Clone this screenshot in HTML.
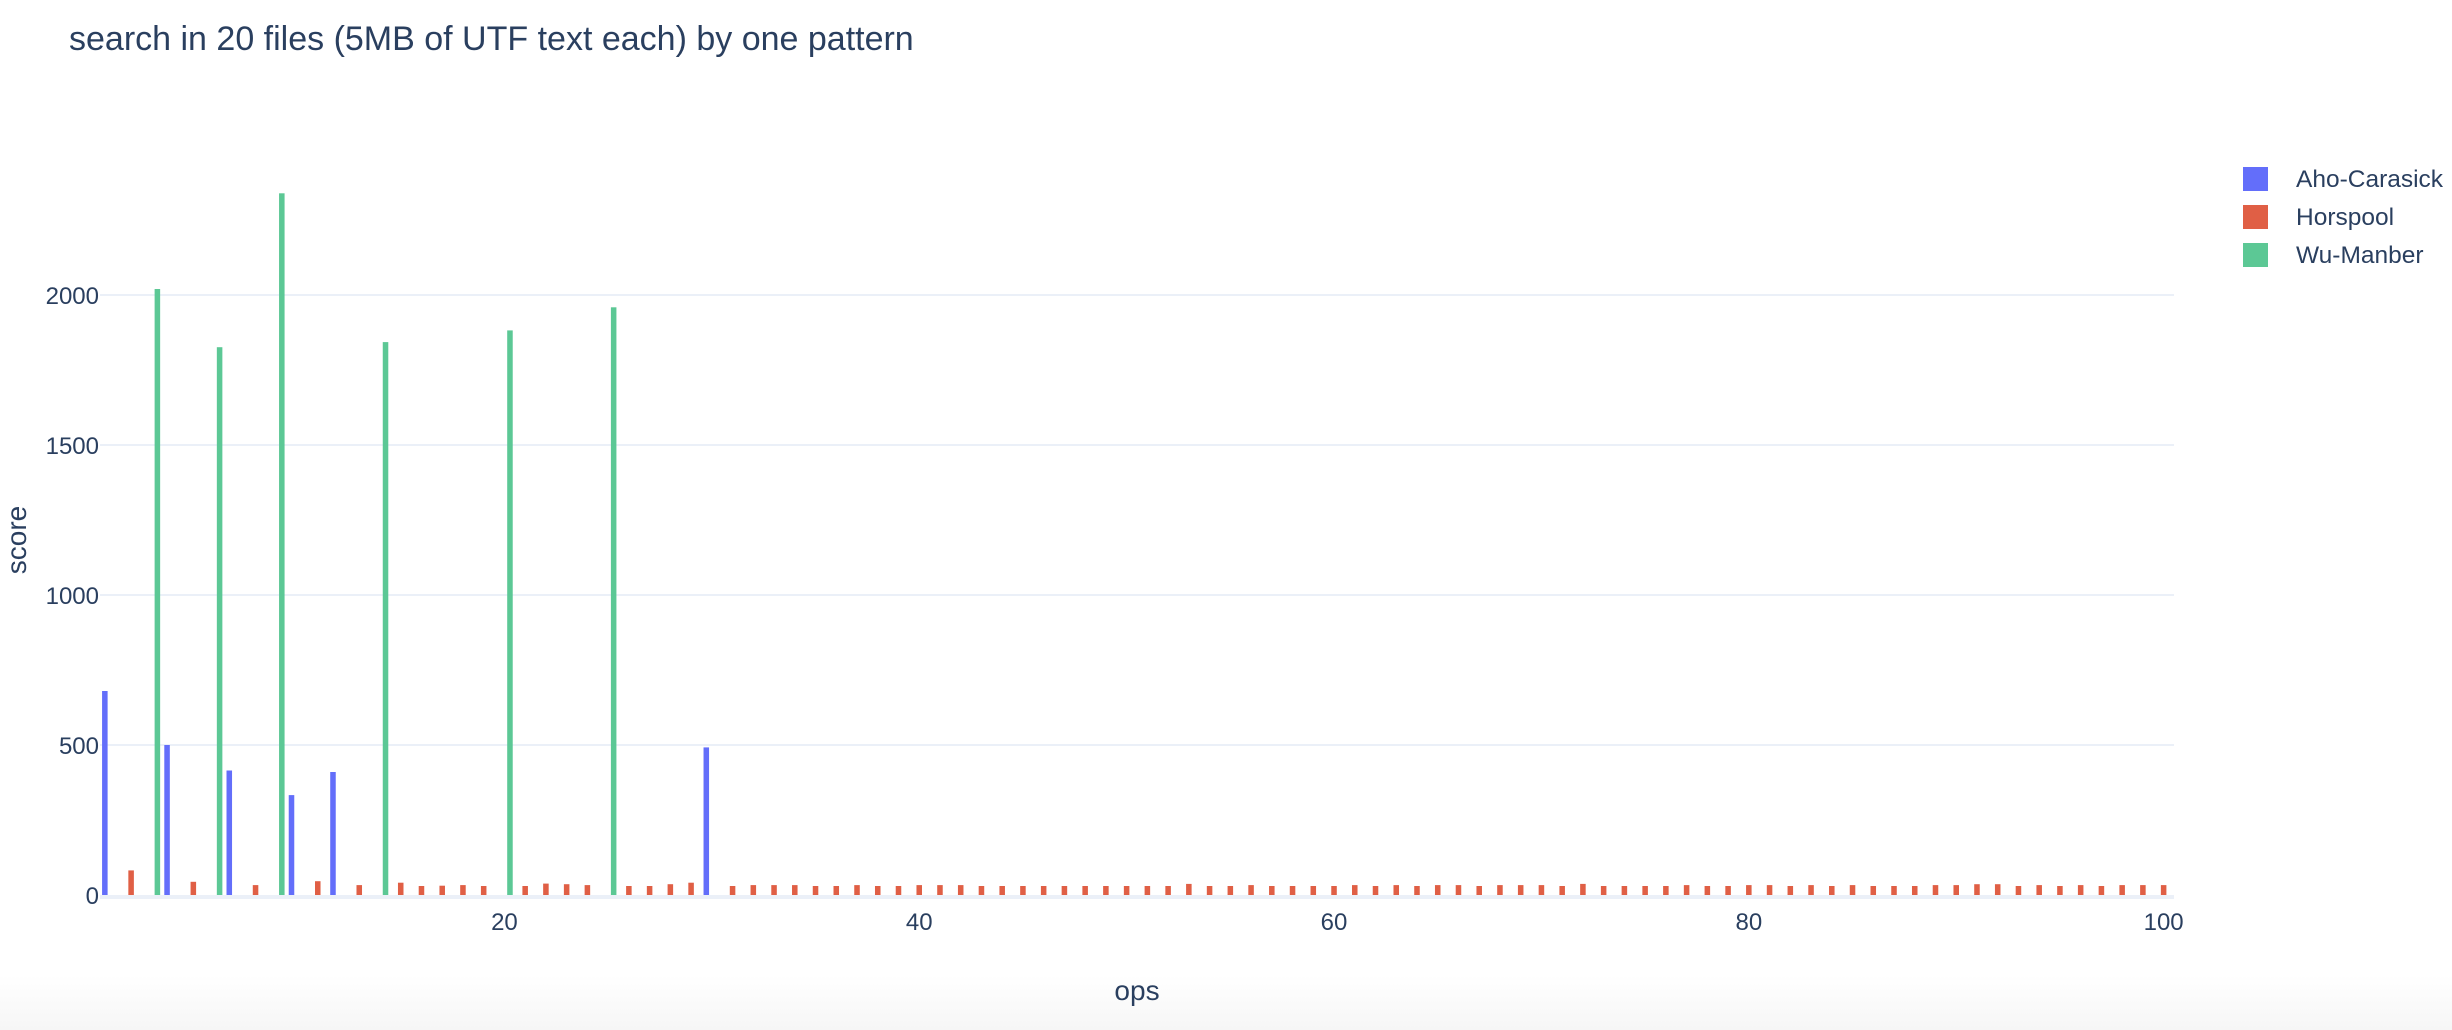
<!DOCTYPE html>
<html><head><meta charset="utf-8">
<style>
html,body{margin:0;padding:0;background:#fff;}
body{width:2452px;height:1030px;overflow:hidden;position:relative;font-family:"Liberation Sans",sans-serif;}
#bg{position:absolute;left:0;top:0;width:2452px;height:1030px;background:linear-gradient(to bottom,#fff 0,#fff 975px,#f6f6f6 1030px);}
svg{position:absolute;left:0;top:0;}
</style></head>
<body>
<div id="bg"></div>
<svg id="chart" width="2452" height="1030">
<text x="69" y="50" font-size="34" fill="#2a3f5f">search in 20 files (5MB of UTF text each) by one pattern</text>
<g id="grid"></g>
<g id="bars"></g>
<g id="ticks"></g>
<text x="1137" y="1000" font-size="28" fill="#2a3f5f" text-anchor="middle">ops</text>
<text x="26" y="540" font-size="28" fill="#2a3f5f" text-anchor="middle" transform="rotate(-90 26 540)">score</text>
<g id="legend"></g>
</svg>
<script>
const seriesNames = ["Aho-Carasick","Horspool","Wu-Manber"];
const seriesColors = ["#636efa","#e05f45","#5cc895"];
const ahoX = [1,4,7,10,12,30];
const ahoY = [680,500,415,333,410,492];
const wuX = [3,6,9,14,20,25];
const wuY = [2020,1826,2339,1843,1882,1959];
const horX = [2,5,8,11,13,15,16,17,18,19,21,22,23,24,26,27,28,29,
31,32,33,34,35,36,37,38,39,40,41,42,43,44,45,46,47,48,49,50,51,52,53,54,55,56,57,58,59,60,
61,62,63,64,65,66,67,68,69,70,71,72,73,74,75,76,77,78,79,80,81,82,83,84,85,86,87,88,89,90,
91,92,93,94,95,96,97,98,99,100];
const horY = [82,44,33,46,33,41,30,31,33,30,30,38,36,33,30,30,36,41,
30,33,33,33,30,30,33,30,30,33,33,33,30,30,30,30,30,30,30,30,30,30,37,30,30,33,30,30,30,30,
33,30,33,30,33,33,30,33,33,33,30,37,30,30,30,30,33,30,30,33,33,30,33,30,33,30,30,30,33,33,
36,36,30,33,30,33,30,33,33,33];
const yTicks = [0,500,1000,1500,2000];
const xTicks = [20,40,60,80,100];

const NS="http://www.w3.org/2000/svg";
const L=100,R=2174,T=136,B=895;
const xMin=0.5,xMax=100.5,yMin=0,yMax=2530;
function sx(v){return L+(v-xMin)/(xMax-xMin)*(R-L);}
function sy(v){return B-(v-yMin)/(yMax-yMin)*(B-T);}
function mk(tag,attrs,parent){const e=document.createElementNS(NS,tag);for(const k in attrs)e.setAttribute(k,attrs[k]);parent.appendChild(e);return e;}
const grid=document.getElementById('grid'),bars=document.getElementById('bars'),ticks=document.getElementById('ticks'),legend=document.getElementById('legend');
yTicks.forEach(v=>{
  const ln=mk('line',{x1:L,x2:R,y1:sy(v)+(v===0?2:0),y2:sy(v)+(v===0?2:0),stroke:'#ebf0f8','stroke-width':v===0?4:2},grid);
  
  
  const t=mk('text',{x:99,y:sy(v)+9,'font-size':24,fill:'#2a3f5f','text-anchor':'end'},ticks);
  t.textContent=v;
  
  
});
xTicks.forEach(v=>{
  const t=mk('text',{x:sx(v),y:B+35,'font-size':24,fill:'#2a3f5f','text-anchor':'middle'},ticks);
  t.textContent=v;
  
  
});
const unit=(R-L)/(xMax-xMin), bw=unit*0.8/3;
function drawSeries(xs,ys,idx){
  xs.forEach((x,i)=>{
    const cx=sx(x)+(idx-1)*bw;
    const r=mk('rect',{x:cx-bw/2,y:sy(ys[i]),width:bw,height:B-sy(ys[i]),fill:seriesColors[idx]},bars);
    
    
  });
}
drawSeries(ahoX,ahoY,0);
drawSeries(horX,horY,1);
drawSeries(wuX,wuY,2);
seriesNames.forEach((n,i)=>{
  const y=179+i*38;
  const s=mk('rect',{x:2243,y:y-12,width:25,height:24,fill:seriesColors[i]},legend);
  
  
  const t=mk('text',{x:2296,y:y+8,'font-size':24.5,fill:'#2a3f5f'},legend);
  t.textContent=n;
  
  
});
</script>
</body></html>
